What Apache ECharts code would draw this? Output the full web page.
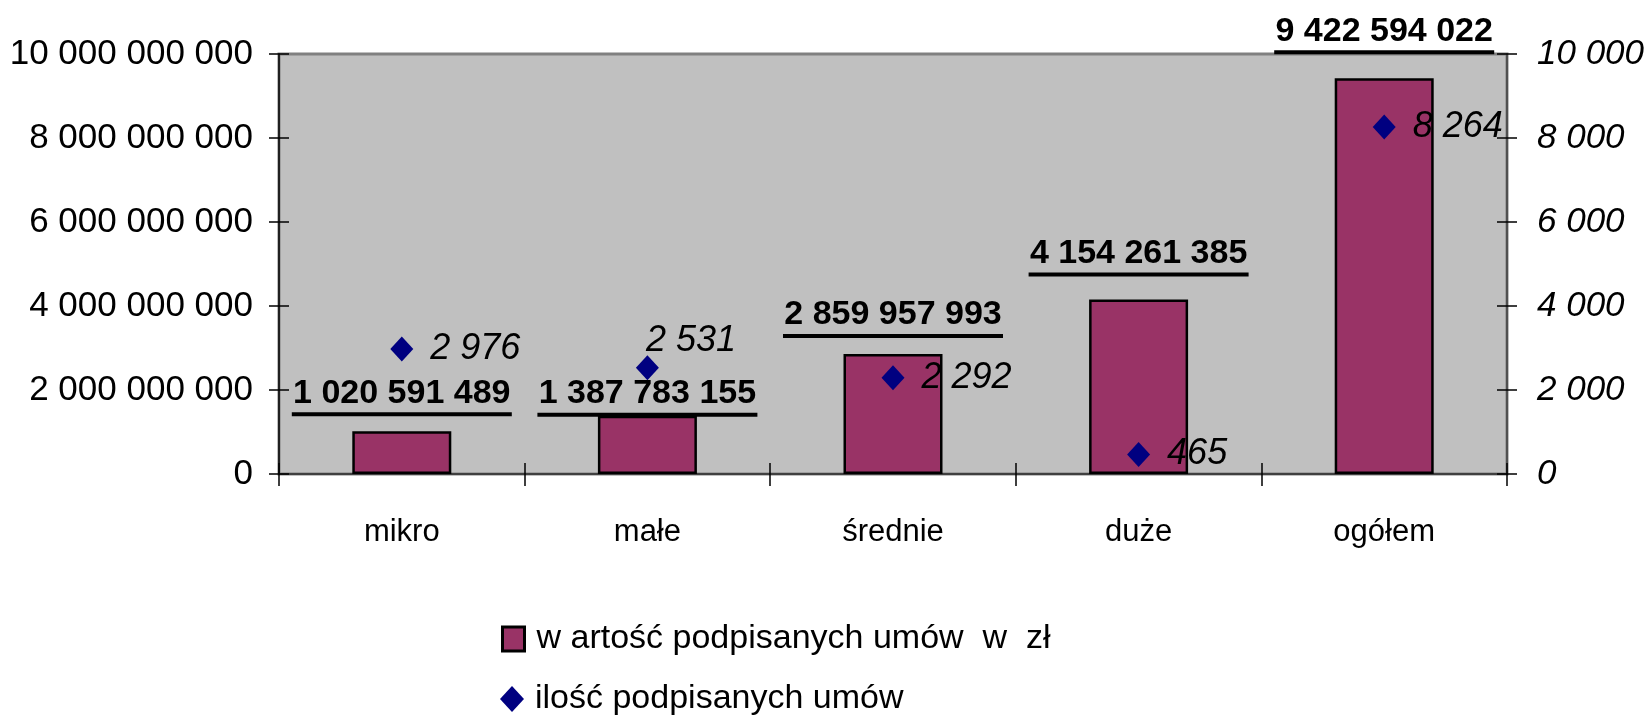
<!DOCTYPE html>
<html>
<head>
<meta charset="utf-8">
<script src="https://cdn.jsdelivr.net/npm/echarts@6/dist/echarts.min.js"></script>
<style>
html,body{margin:0;padding:0;background:#fff;}
#chart{width:1646px;height:719px;}
</style>
</head>
<body>
<div id="chart"></div>
<script>
// ---- data ----
var categories = ['mikro', 'małe', 'średnie', 'duże', 'ogółem'];
var contractValues = [1020591489, 1387783155, 2859957993, 4154261385, 9422594022];
var contractCounts = [2976, 2531, 2292, 465, 8264];
var seriesNames = ['w artość podpisanych umów  w  zł', 'ilość podpisanych umów'];
var leftTicks = { min: 0, max: 10000000000, interval: 2000000000 };
var rightTicks = { min: 0, max: 10000, interval: 2000 };

// ---- styles (not data) ----
var barLabelGap = [15, -1, 16, 23, 24];
var FONT = "'Liberation Sans', Arial, Helvetica, sans-serif";

function fmt(n) {
  return String(n).replace(/\B(?=(\d{3})+(?!\d))/g, ' ');
}

var barData = contractValues.map(function (v, i) {
  return { value: v, label: { distance: barLabelGap[i] } };
});
var scatterData = contractCounts.map(function (v, i) {
  var d = { value: v };
  if (i === 1) d.label = { offset: [-30, -27] };
  return d;
});

function legendFor(item, top, left, w, h, pad) {
  return {
    orient: 'vertical', left: left, top: top, padding: 0,
    itemWidth: w, itemHeight: h,
    textStyle: { fontFamily: FONT, fontSize: 34, color: '#000', padding: [0, 0, 0, pad] },
    data: [item]
  };
}

var chart = echarts.init(document.getElementById('chart'), null, { renderer: 'canvas' });
var option = {
  backgroundColor: '#ffffff',
  animation: false,
  grid: {
    left: 279, right: 139, top: 54, bottom: 245,
    outerBoundsMode: 'none', containLabel: false,
    show: true, backgroundColor: '#c0c0c0', borderColor: '#808080', borderWidth: 3
  },
  legend: [
    legendFor({ name: seriesNames[0], icon: 'rect', itemStyle: { color: '#993366', borderColor: '#000', borderWidth: 3 } }, 622, 501, 22, 24, 7),
    legendFor({ name: seriesNames[1], icon: 'diamond', itemStyle: { color: '#000080', borderWidth: 0, opacity: 1 } }, 682, 500, 24, 26, 6)
  ],
  xAxis: [{
    type: 'category', data: categories, position: 'bottom',
    axisLine: { show: true, lineStyle: { color: '#404040', width: 2 } },
    axisTick: { show: true, length: 12, inside: false, lineStyle: { color: '#000', width: 1.5 } },
    axisLabel: { color: '#000', fontFamily: FONT, fontSize: 31, margin: 43 },
    splitLine: { show: false }
  }, {
    type: 'category', data: categories, position: 'bottom',
    axisLine: { show: false },
    axisTick: { show: true, length: 11, inside: true, lineStyle: { color: '#000', width: 1.5 } },
    axisLabel: { show: false },
    splitLine: { show: false }
  }],
  yAxis: [{
    type: 'value', position: 'left',
    min: leftTicks.min, max: leftTicks.max, interval: leftTicks.interval,
    axisLine: { show: true, lineStyle: { color: '#000', width: 1.5 } },
    axisTick: { show: true, length: 10, inside: false, lineStyle: { color: '#000', width: 1.5 } },
    axisLabel: { color: '#000', fontFamily: FONT, fontSize: 35, margin: 26, formatter: function (v) { return fmt(v); } },
    splitLine: { show: false }
  }, {
    type: 'value', position: 'right',
    min: rightTicks.min, max: rightTicks.max, interval: rightTicks.interval,
    axisLine: { show: true, lineStyle: { color: '#404040', width: 1.5 } },
    axisTick: { show: true, length: 10, inside: false, lineStyle: { color: '#000', width: 1.5 } },
    axisLabel: { color: '#000', fontFamily: FONT, fontStyle: 'italic', fontSize: 35, margin: 30, formatter: function (v) { return fmt(v); } },
    splitLine: { show: false }
  }, {
    type: 'value', position: 'left',
    min: leftTicks.min, max: leftTicks.max, interval: leftTicks.interval,
    axisLine: { show: false },
    axisTick: { show: true, length: 10, inside: true, lineStyle: { color: '#000', width: 1.5 } },
    axisLabel: { show: false }, splitLine: { show: false }
  }, {
    type: 'value', position: 'right',
    min: rightTicks.min, max: rightTicks.max, interval: rightTicks.interval,
    axisLine: { show: false },
    axisTick: { show: true, length: 10, inside: true, lineStyle: { color: '#000', width: 1.5 } },
    axisLabel: { show: false }, splitLine: { show: false }
  }],
  series: [{
    name: seriesNames[0], type: 'bar', xAxisIndex: 0, yAxisIndex: 0,
    data: barData, barWidth: 99, z: 2,
    itemStyle: { color: '#993366', borderColor: '#000', borderWidth: 2.5 },
    label: {
      show: true, position: 'top', distance: 15,
      formatter: function (p) { return '{t|' + fmt(p.value) + '}\n{u|}'; },
      rich: {
        t: { fontFamily: FONT, fontWeight: 'bold', fontSize: 34, color: '#000', lineHeight: 38, align: 'center' },
        u: { width: 220, height: 4, lineHeight: 4, backgroundColor: '#000', align: 'center' }
      }
    }
  }, {
    name: seriesNames[1], type: 'scatter', xAxisIndex: 0, yAxisIndex: 1,
    data: scatterData, symbol: 'diamond', symbolSize: [23, 25], z: 5,
    itemStyle: { color: '#000080', opacity: 1 },
    label: {
      show: true, position: 'right', distance: 17,
      fontFamily: FONT, fontStyle: 'italic', fontSize: 36, color: '#000',
      formatter: function (p) { return fmt(p.value); }
    }
  }]
};
chart.setOption(option);
</script>
</body>
</html>
